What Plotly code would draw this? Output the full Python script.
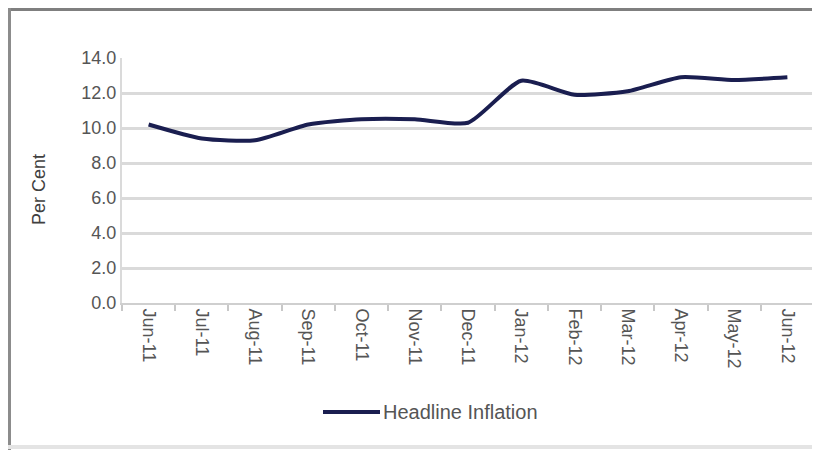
import plotly.graph_objects as go

months = ["Jun-11", "Jul-11", "Aug-11", "Sep-11", "Oct-11", "Nov-11", "Dec-11",
          "Jan-12", "Feb-12", "Mar-12", "Apr-12", "May-12", "Jun-12"]
headline_inflation = [10.2, 9.4, 9.3, 10.2, 10.5, 10.5, 10.3,
                      12.7, 11.9, 12.1, 12.9, 12.75, 12.9]
y_ticks = [0, 2, 4, 6, 8, 10, 12, 14]
y_tick_labels = ["0.0", "2.0", "4.0", "6.0", "8.0", "10.0", "12.0", "14.0"]
series_name = "Headline Inflation"
y_title = "Per Cent"

W, H = 820, 450
OFF = 8  # page body margin in the browser
# target plot area in screen pixels
SL, ST, SR, SB = 122, 58, 814, 303
L, T = SL - OFF, ST - OFF
R = W - (SR - OFF)
B = H - (SB - OFF)
pw, ph = W - L - R, H - T - B

def px_x(sx):
    return (sx - OFF - L) / pw

def px_y(sy):
    return (H - B - (sy - OFF)) / ph

line_color = "#1a1e50"
text_color = "#555555"
font = "Liberation Sans, Arial, sans-serif"

fig = go.Figure()
fig.add_trace(go.Scatter(
    x=months, y=headline_inflation, mode="lines", name=series_name,
    line=dict(color=line_color, width=4, shape="spline", smoothing=0.6),
    showlegend=False,
))

fig.update_layout(
    width=W, height=H,
    margin=dict(l=L, r=R, t=T, b=B, autoexpand=False),
    paper_bgcolor="white", plot_bgcolor="white",
    font=dict(family=font, size=18, color=text_color),
    showlegend=False,
    xaxis=dict(type="category", range=[-0.5, len(months) - 0.5], tickangle=90,
               ticks="outside", tickson="boundaries", ticklen=6, tickcolor="#c8c8c8",
               tickwidth=1.5, showline=True, linecolor="#cfcfcf", linewidth=2,
               showgrid=False, automargin=False,
               tickfont=dict(size=18, color=text_color)),
    yaxis=dict(range=[0, 14], tickvals=y_ticks, ticktext=y_tick_labels,
               showgrid=True, gridcolor="#dadada", gridwidth=2.5,
               showline=True, linecolor="#dadada", linewidth=2,
               ticks="", zeroline=False, automargin=False,
               tickfont=dict(size=18, color=text_color)),
    annotations=[
        dict(text=y_title, xref="paper", yref="paper", x=px_x(39), y=px_y(190),
             showarrow=False, textangle=-90, xanchor="center", yanchor="middle",
             font=dict(size=18, color="#404040")),
        dict(text=series_name, xref="paper", yref="paper", x=px_x(381), y=px_y(412),
             showarrow=False, xanchor="left", yanchor="middle",
             font=dict(size=20, color=text_color)),
    ],
    shapes=[
        dict(type="line", xref="paper", yref="paper", x0=px_x(323), x1=px_x(380),
             y0=px_y(412), y1=px_y(412), line=dict(color=line_color, width=4)),
        dict(type="line", xref="paper", yref="paper", x0=px_x(0), x1=px_x(W + OFF),
             y0=px_y(OFF + 1.5), y1=px_y(OFF + 1.5), line=dict(color="#7f7f7f", width=3)),
        dict(type="line", xref="paper", yref="paper", x0=px_x(OFF + 1.5), x1=px_x(OFF + 1.5),
             y0=px_y(0), y1=px_y(H + OFF), line=dict(color="#8c8c8c", width=3)),
        dict(type="line", xref="paper", yref="paper", x0=px_x(0), x1=px_x(W + OFF),
             y0=px_y(447), y1=px_y(447), line=dict(color="#e4e4e4", width=4)),
    ],
)

fig.write_html("out.html")
